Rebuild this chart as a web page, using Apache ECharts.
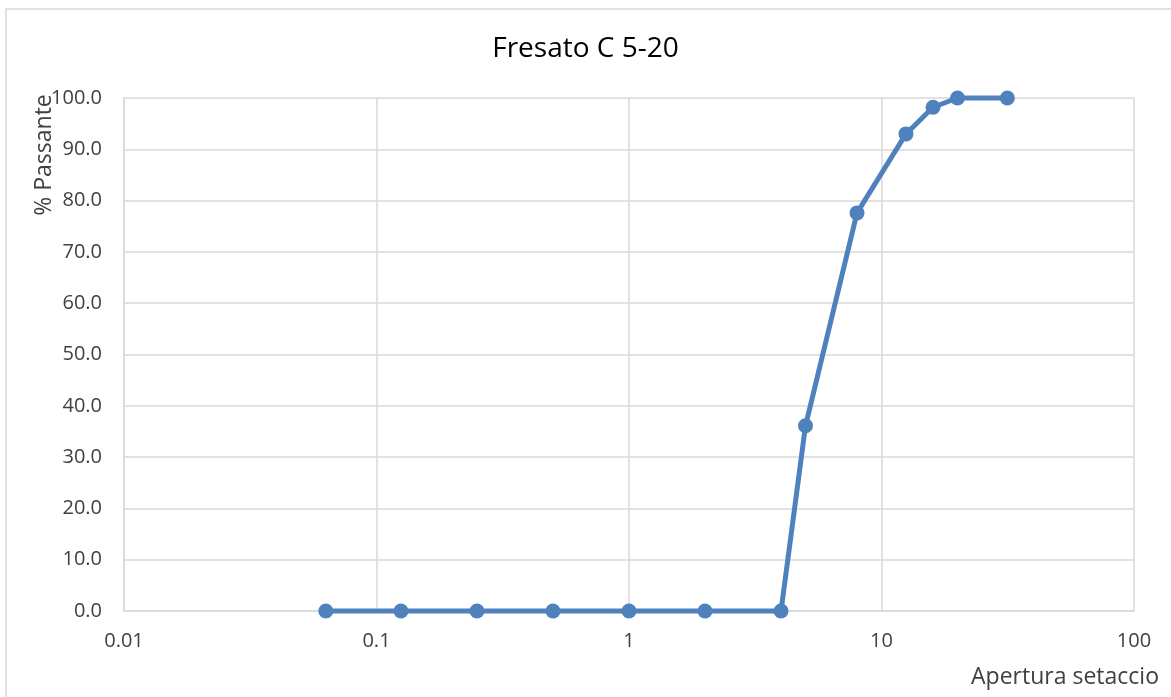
<!DOCTYPE html>
<html><head><meta charset="utf-8">
<script src="https://cdn.jsdelivr.net/npm/echarts@6/dist/echarts.min.js"></script>
<style>html,body{margin:0;padding:0;background:#fff}#c{width:1171px;height:697px}</style>
</head><body><div id="c"></div>
<script>
const title = 'Fresato C 5-20';
const sieveSizes = [0.063, 0.125, 0.25, 0.5, 1, 2, 4, 5, 8, 12.5, 16, 20, 31.5];
const passing = [0.0, 0.0, 0.0, 0.0, 0.0, 0.0, 0.0, 36.1, 77.6, 93.0, 98.2, 100.0, 100.0];
const xTickLabels = ['0.01', '0.1', '1', '10', '100'];
const yAxisTitle = '% Passante';
const xAxisTitle = 'Apertura setaccio';

const font = '"Open Sans", "Liberation Sans", sans-serif';
const chart = echarts.init(document.getElementById('c'), null, {renderer: 'canvas'});
chart.setOption({
  animation: false,
  title: {text: title, left: 'center', top: 30, textStyle: {fontFamily: font, fontSize: 28, fontWeight: 'normal', color: '#000'}},
  grid: {left: 124, right: 37, top: 98, bottom: 86, containLabel: false},
  graphic: [
    {type: 'rect', shape: {x: 6, y: 9, width: 1200, height: 720}, style: {fill: 'none', stroke: '#d9d9d9', lineWidth: 1.5}, silent: true, z: -1},
    {type: 'text', x: 44, y: 155, rotation: Math.PI / 2, style: {text: yAxisTitle, font: '23px ' + font, fill: '#404040', align: 'center', verticalAlign: 'middle'}},
    {type: 'text', x: 1159, y: 677, style: {text: xAxisTitle, font: '23px ' + font, fill: '#404040', align: 'right', verticalAlign: 'middle'}}
  ],
  xAxis: {
    type: 'log', logBase: 10, min: 0.01, max: 100,
    axisLine: {show: true, lineStyle: {color: '#d9d9d9', width: 1.5}},
    axisTick: {show: false},
    splitLine: {show: true, lineStyle: {color: '#d9d9d9', width: 1.5}},
    minorSplitLine: {show: false},
    axisLabel: {fontFamily: font, fontSize: 20, color: '#404040', margin: 20,
      formatter: function (v) { const i = Math.round(Math.log10(v)) + 2; return xTickLabels[i] !== undefined ? xTickLabels[i] : ''; }}
  },
  yAxis: {
    type: 'value', min: 0, max: 100, interval: 10,
    axisLine: {show: true, lineStyle: {color: '#d9d9d9', width: 1.5}},
    axisTick: {show: false},
    splitLine: {show: true, lineStyle: {color: '#d9d9d9', width: 1.5}},
    axisLabel: {fontFamily: font, fontSize: 20, color: '#404040', margin: 22, formatter: function (v) { return v.toFixed(1); }}
  },
  series: [{
    type: 'line',
    data: sieveSizes.map((s, i) => [s, passing[i]]),
    symbol: 'circle', symbolSize: 15,
    lineStyle: {color: '#4f81bd', width: 5},
    itemStyle: {color: '#4f81bd'},
    clip: false
  }]
});
</script></body></html>
